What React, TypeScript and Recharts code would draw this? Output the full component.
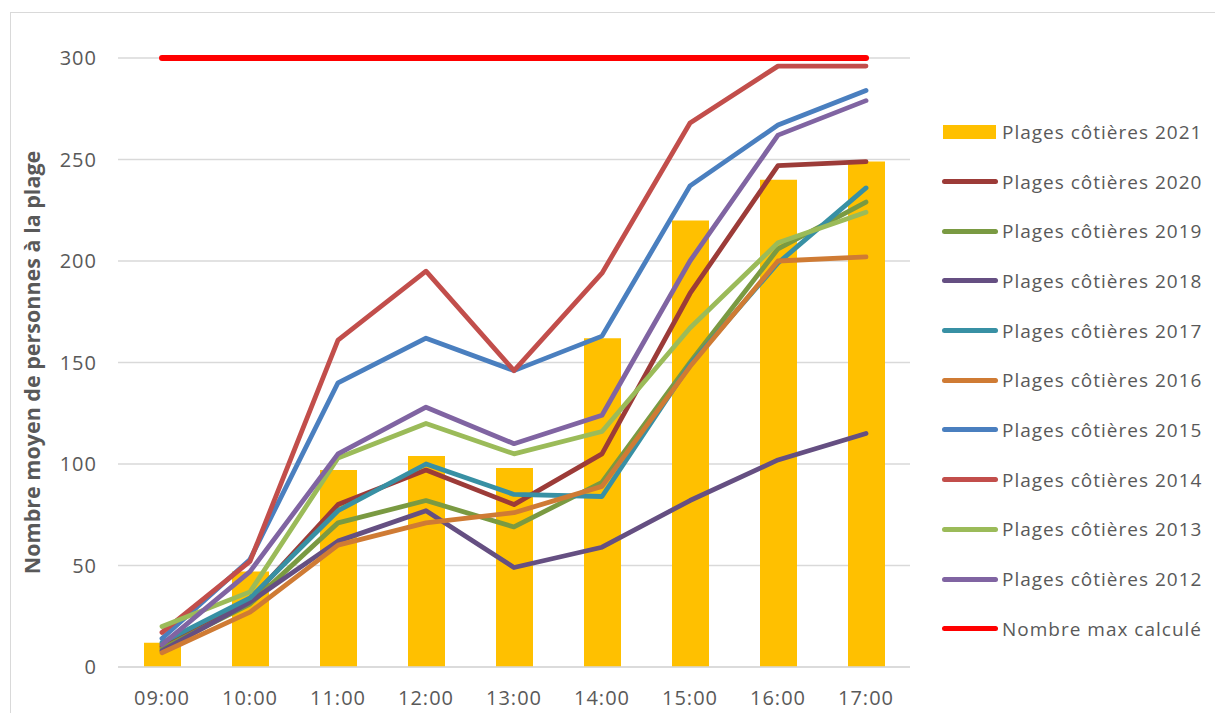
import React from 'react';
import { ComposedChart, Bar, Line, XAxis, YAxis, CartesianGrid, Label } from 'recharts';

const hours = ['09:00', '10:00', '11:00', '12:00', '13:00', '14:00', '15:00', '16:00', '17:00'];

const plages2021 = [12, 47, 97, 104, 98, 162, 220, 240, 249];
const plages2020 = [10, 33, 80, 97, 80, 105, 184, 247, 249];
const plages2019 = [9, 31, 71, 82, 69, 91, 150, 206, 229];
const plages2018 = [8, 32, 62, 77, 49, 59, 82, 102, 115];
const plages2017 = [12, 34, 77, 100, 85, 84, 149, 199, 236];
const plages2016 = [7, 27, 60, 71, 76, 89, 148, 200, 202];
const plages2015 = [14, 53, 140, 162, 146, 163, 237, 267, 284];
const plages2014 = [17, 52, 161, 195, 146, 194, 268, 296, 296];
const plages2013 = [20, 37, 103, 120, 105, 116, 167, 209, 224];
const plages2012 = [11, 47, 105, 128, 110, 124, 200, 262, 279];
const nombreMax = [300, 300, 300, 300, 300, 300, 300, 300, 300];

const yTicks = [0, 50, 100, 150, 200, 250, 300];

const lineSeries = [
  { key: 'p2020', name: 'Plages côtières 2020', color: '#9C3B38', values: plages2020 },
  { key: 'p2019', name: 'Plages côtières 2019', color: '#7A9A42', values: plages2019 },
  { key: 'p2018', name: 'Plages côtières 2018', color: '#654F82', values: plages2018 },
  { key: 'p2017', name: 'Plages côtières 2017', color: '#3890A4', values: plages2017 },
  { key: 'p2016', name: 'Plages côtières 2016', color: '#CF7B34', values: plages2016 },
  { key: 'p2015', name: 'Plages côtières 2015', color: '#4A7FBF', values: plages2015 },
  { key: 'p2014', name: 'Plages côtières 2014', color: '#C24E4B', values: plages2014 },
  { key: 'p2013', name: 'Plages côtières 2013', color: '#9BBB59', values: plages2013 },
  { key: 'p2012', name: 'Plages côtières 2012', color: '#8064A2', values: plages2012 },
];

const data = hours.map((h, i) => {
  const row: Record<string, any> = { hour: h, p2021: plages2021[i], max: nombreMax[i] };
  lineSeries.forEach((s) => {
    row[s.key] = s.values[i];
  });
  return row;
});

const legendItems = [
  { name: 'Plages côtières 2021', color: '#FFC000', bar: true },
  ...lineSeries.map((s) => ({ name: s.name, color: s.color, bar: false })),
  { name: 'Nombre max calculé', color: '#FF0000', bar: false },
];

const FONT = '"Open Sans", "Liberation Sans", sans-serif';
const tickStyle = { fill: '#595959', fontSize: 20, fontFamily: FONT, letterSpacing: 1 };

// legend sits outside the chart so it doesn't eat into the plot width
const LegendBox = () => (
  <div
    style={{
      position: 'absolute',
      left: 942,
      top: 107,
      fontFamily: FONT,
      fontSize: 19,
      letterSpacing: 1,
      color: '#595959',
    }}
  >
    {legendItems.map((it) => (
      <div key={it.name} style={{ display: 'flex', alignItems: 'center', height: 49.7 }}>
        {it.bar ? (
          <div style={{ width: 53, height: 14, background: it.color, marginLeft: 1, marginRight: 6 }} />
        ) : (
          <div style={{ width: 56, height: 5, borderRadius: 3, background: it.color, marginRight: 4 }} />
        )}
        <span>{it.name}</span>
      </div>
    ))}
  </div>
);

export default function App() {
  return (
    <div style={{ position: 'absolute', left: 0, top: 0, width: 1215, height: 713, overflow: 'hidden', background: '#fff' }}>
      <div
        style={{
          position: 'absolute',
          left: 10,
          top: 12,
          width: 1300,
          height: 800,
          border: '1.5px solid #D9D9D9',
        }}
      />
      <ComposedChart
        width={1215}
        height={713}
        data={data}
        margin={{ top: 58, right: 305, left: 30, bottom: 16 }}
        style={{ position: 'absolute', left: 0, top: 0 }}
      >
        <CartesianGrid vertical={false} stroke="#D9D9D9" strokeWidth={1.5} />
        <XAxis
          dataKey="hour"
          axisLine={{ stroke: '#D9D9D9', strokeWidth: 1.5 }}
          tickLine={false}
          height={30}
          tick={tickStyle}
          tickMargin={18}
        />
        <YAxis
          domain={[0, 300]}
          ticks={yTicks}
          width={88}
          axisLine={false}
          tickLine={false}
          tick={tickStyle}
          tickMargin={15}
        >
          <Label
            value="Nombre moyen de personnes à la plage"
            angle={-90}
            position="insideLeft"
            offset={2}
            style={{ textAnchor: 'middle', fill: '#595959', fontSize: 21.5, fontWeight: 'bold', fontFamily: FONT }}
          />
        </YAxis>
        <Bar dataKey="p2021" name="Plages côtières 2021" fill="#FFC000" barSize={37} isAnimationActive={false} />
        {lineSeries.map((s) => (
          <Line
            key={s.key}
            type="linear"
            dataKey={s.key}
            name={s.name}
            stroke={s.color}
            strokeWidth={4.8}
            strokeLinecap="round"
            strokeLinejoin="round"
            dot={false}
            activeDot={false}
            isAnimationActive={false}
          />
        ))}
        <Line
          type="linear"
          dataKey="max"
          name="Nombre max calculé"
          stroke="#FF0000"
          strokeWidth={6}
          strokeLinecap="round"
          dot={false}
          activeDot={false}
          isAnimationActive={false}
        />
      </ComposedChart>
      <LegendBox />
    </div>
  );
}
